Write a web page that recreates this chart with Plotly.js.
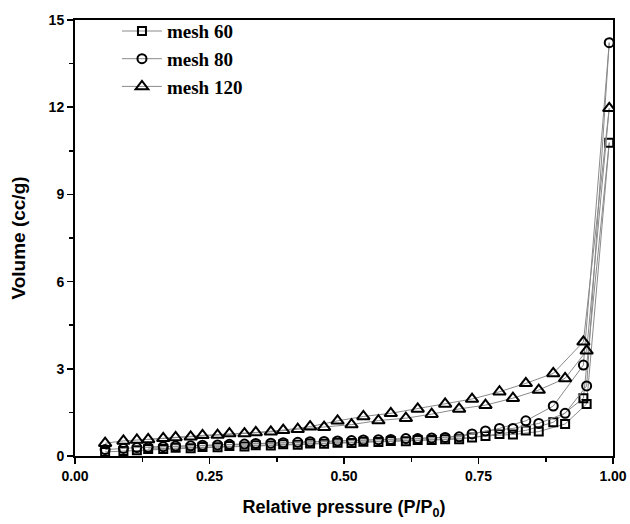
<!DOCTYPE html>
<html>
<head>
<meta charset="utf-8">
<script src="https://cdn.plot.ly/plotly-3.0.1.min.js"></script>
<style>html,body{margin:0;padding:0;background:#fff;}#chart{width:630px;height:524px;}</style>
</head>
<body>
<div id="chart"></div>
<script>
// Relative pressure grids (adsorption up, desorption down)
const adsP = [0.056,0.090,0.115,0.164,0.215,0.265,0.315,0.364,0.414,0.463,0.514,0.564,0.615,0.663,0.714,0.763,0.814,0.862,0.911,0.951,0.993];
const desP = [0.945,0.889,0.838,0.789,0.738,0.688,0.637,0.587,0.536,0.488,0.437,0.387,0.336,0.287,0.237,0.187,0.136];

const seriesNames = ["mesh 60","mesh 80","mesh 120"];
const mesh60Ads  = [0.14,0.17,0.20,0.24,0.27,0.30,0.33,0.36,0.39,0.42,0.45,0.48,0.51,0.55,0.58,0.69,0.74,0.84,1.10,1.79,10.78];
const mesh60Des  = [1.99,1.16,0.88,0.76,0.64,0.58,0.55,0.52,0.49,0.46,0.43,0.40,0.37,0.34,0.31,0.28,0.24];
const mesh80Ads  = [0.22,0.26,0.29,0.32,0.35,0.38,0.41,0.44,0.47,0.50,0.53,0.56,0.60,0.62,0.66,0.86,0.95,1.12,1.47,2.41,14.22];
const mesh80Des  = [3.13,1.72,1.21,0.95,0.76,0.64,0.60,0.57,0.55,0.52,0.49,0.46,0.43,0.40,0.37,0.34,0.30];
const mesh120Ads = [0.44,0.52,0.55,0.61,0.66,0.72,0.77,0.83,0.92,0.99,1.08,1.22,1.30,1.44,1.62,1.75,1.99,2.27,2.67,3.62,11.96];
const mesh120Des = [3.93,2.84,2.50,2.21,1.96,1.79,1.62,1.47,1.36,1.21,1.01,0.89,0.81,0.77,0.71,0.64,0.57];

const xTickVals = [0,0.25,0.5,0.75,1.0];
const xTickText = ["0.00","0.25","0.50","0.75","1.00"];
const yTickVals = [0,3,6,9,12,15];

const symbols = ["square-open","circle-open","triangle-up-open"];
const sizes = [8,9,11];
const adsList = [mesh60Ads, mesh80Ads, mesh120Ads];
const desList = [mesh60Des, mesh80Des, mesh120Des];

const traces = seriesNames.map((name,i)=>({
  type:"scatter", mode:"lines+markers", name:name,
  x: adsP.concat(desP), y: adsList[i].concat(desList[i]),
  line:{color:"#8a8a8a", width:1},
  marker:{symbol:symbols[i], size:sizes[i], color:"#000", line:{color:"#000", width:2}}
}));

const layout = {
  width:630, height:524,
  margin:{l:75, r:17, t:20, b:68},
  paper_bgcolor:"#fff", plot_bgcolor:"#fff",
  showlegend:true,
  legend:{x:0.078, y:1.018, xanchor:"left", yanchor:"top", bgcolor:"rgba(0,0,0,0)",
    font:{family:"Liberation Serif, Times New Roman, serif", size:19, color:"#000", weight:"bold"},
    tracegroupgap:0, itemwidth:40},
  xaxis:{range:[0,1], tickvals:xTickVals, ticktext:xTickText, showgrid:false, zeroline:false,
    showline:true, mirror:true, linecolor:"#000", linewidth:2,
    ticks:"outside", ticklen:6, tickwidth:1.5, tickcolor:"#000",
    minor:{ticks:"outside", dtick:0.125, ticklen:4, tickwidth:1.5, tickcolor:"#000"},
    tickfont:{family:"Liberation Sans, Arial, sans-serif", size:14, color:"#000", weight:"bold"},
    title:{text:"Relative pressure (P/P<sub>0</sub>)", standoff:18,
      font:{family:"Liberation Sans, Arial, sans-serif", size:18, color:"#000", weight:"bold"}}},
  yaxis:{range:[0,15], tickvals:yTickVals, showgrid:false, zeroline:false,
    showline:true, mirror:true, linecolor:"#000", linewidth:2,
    ticks:"outside", ticklen:6, tickwidth:1.5, tickcolor:"#000",
    minor:{ticks:"outside", dtick:1.5, ticklen:4, tickwidth:1.5, tickcolor:"#000"},
    tickfont:{family:"Liberation Sans, Arial, sans-serif", size:14, color:"#000", weight:"bold"},
    title:{text:"Volume (cc/g)", standoff:18,
      font:{family:"Liberation Sans, Arial, sans-serif", size:19, color:"#000", weight:"bold"}}}
};

Plotly.newPlot("chart", traces, layout, {displayModeBar:false, staticPlot:true});
</script>
</body>
</html>
